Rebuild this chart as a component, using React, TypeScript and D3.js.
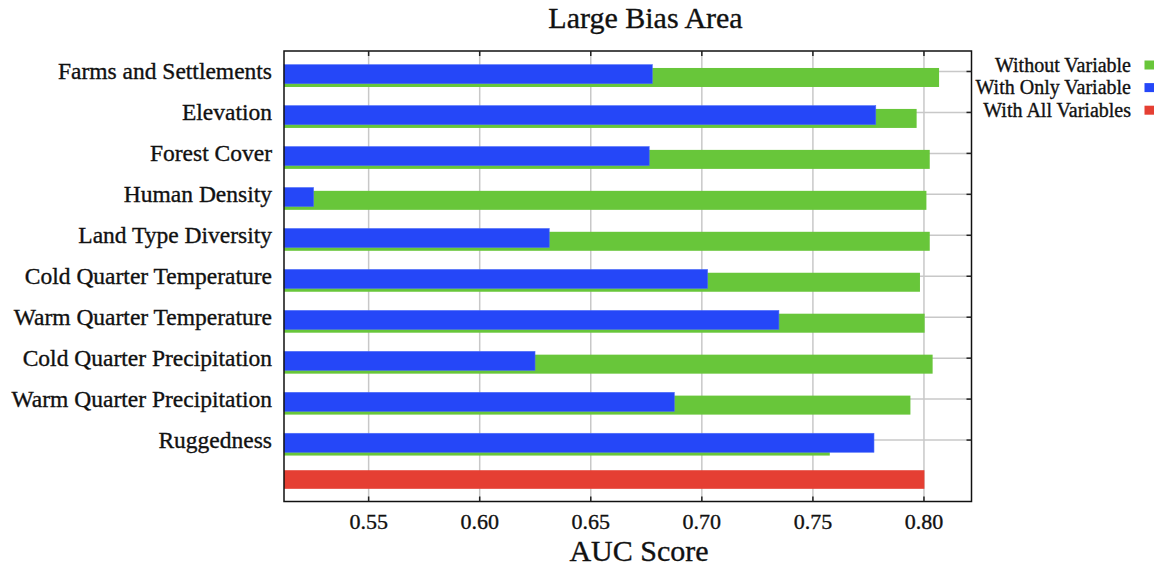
import * as d3 from "d3";

// variable names, top to bottom
const categories = [
  "Farms and Settlements",
  "Elevation",
  "Forest Cover",
  "Human Density",
  "Land Type Diversity",
  "Cold Quarter Temperature",
  "Warm Quarter Temperature",
  "Cold Quarter Precipitation",
  "Warm Quarter Precipitation",
  "Ruggedness",
];

// AUC scores
const withoutVariable = [0.8068, 0.7967, 0.8026, 0.8011, 0.8026, 0.7982, 0.8003, 0.8039, 0.7939, 0.7576];
const withOnlyVariable = [0.6777, 0.7783, 0.6763, 0.5252, 0.6313, 0.7026, 0.7347, 0.6249, 0.6876, 0.7775];
const withAllVariables = 0.8002;

const xTicks = [0.55, 0.6, 0.65, 0.7, 0.75, 0.8];
const xDomain = [0.5119, 0.8214];

const legendLabels = ["Without Variable", "With Only Variable", "With All Variables"];
const legendColors = ["#68c63a", "#2547f8", "#e53f33"];

const W = 1159;
const H = 569;
const FONT = "'Liberation Serif', 'Times New Roman', serif";

export default function App() {
  const left = 284;
  const right = 971.5;
  const top = 51;
  const bottom = 501.5;

  const x = d3.scaleLinear().domain(xDomain).range([left, right]);
  const rows = [...categories, "__all__"];
  const y = d3.scaleBand().domain(rows).range([top, bottom]).padding(0);
  const bw = y.bandwidth();
  const mid = (c: string) => (y(c) as number) + bw / 2;
  const fmt = d3.format(".2f");
  const [green, blue, red] = legendColors;

  // the reference text is a bit heavier than plain Times
  const ink = { fill: "#111", stroke: "#111", strokeWidth: 0.35 };

  return (
    <svg
      width={W}
      height={H}
      style={{ position: "absolute", left: 0, top: 0, background: "#fff" }}
      fontFamily={FONT}
    >
      <rect x={0} y={0} width={W} height={H} fill="#fff" />

      {/* title */}
      <text x={645.5} y={28} textAnchor="middle" fontSize={30} {...ink}>
        Large Bias Area
      </text>

      {/* grid */}
      {xTicks.map((t) => (
        <line key={"gx" + t} x1={x(t)} x2={x(t)} y1={top} y2={bottom} stroke="#c8c8c8" strokeWidth={1.5} />
      ))}
      {categories.map((c) => (
        <line key={"gy" + c} x1={left} x2={right} y1={mid(c)} y2={mid(c)} stroke="#c8c8c8" strokeWidth={1.5} />
      ))}

      {/* bars */}
      {categories.map((c, i) => (
        <rect
          key={"g" + c}
          x={x(xDomain[0])}
          y={mid(c) - 3.5}
          width={x(withoutVariable[i]) - x(xDomain[0])}
          height={19}
          fill={green}
        />
      ))}
      {categories.map((c, i) => (
        <rect
          key={"b" + c}
          x={x(xDomain[0])}
          y={mid(c) - 6.8}
          width={x(withOnlyVariable[i]) - x(xDomain[0])}
          height={19}
          fill={blue}
          stroke="#4d6cf9"
          strokeWidth={0.6}
        />
      ))}
      <rect
        x={x(xDomain[0])}
        y={mid("__all__") - 10.8}
        width={x(withAllVariables) - x(xDomain[0])}
        height={18.6}
        fill={red}
      />

      {/* frame and inward ticks */}
      <rect x={left} y={top} width={right - left} height={bottom - top} fill="none" stroke="#111" strokeWidth={1.5} />
      {xTicks.map((t) => (
        <g key={"t" + t}>
          <line x1={x(t)} x2={x(t)} y1={top} y2={top + 5} stroke="#222" strokeWidth={1.5} />
          <line x1={x(t)} x2={x(t)} y1={bottom} y2={bottom - 5} stroke="#222" strokeWidth={1.5} />
          <text x={x(t)} y={529} textAnchor="middle" fontSize={22} {...ink}>
            {fmt(t)}
          </text>
        </g>
      ))}
      {categories.map((c) => (
        <g key={"r" + c}>
          <line x1={right} x2={right - 5} y1={mid(c)} y2={mid(c)} stroke="#222" strokeWidth={1.5} />
          <text x={272} y={mid(c) + 8} textAnchor="end" fontSize={23.5} {...ink}>
            {c}
          </text>
        </g>
      ))}

      {/* axis title */}
      <text x={639} y={561} textAnchor="middle" fontSize={30} {...ink}>
        AUC Score
      </text>

      {/* legend */}
      {legendLabels.map((l, i) => (
        <g key={l} transform={`translate(0, ${71.5 + i * 22.6})`}>
          <text x={1131} y={0} textAnchor="end" fontSize={20} {...ink}>
            {l}
          </text>
          <rect x={1144.5} y={-11} width={9.5} height={9} fill={legendColors[i]} />
        </g>
      ))}
    </svg>
  );
}
